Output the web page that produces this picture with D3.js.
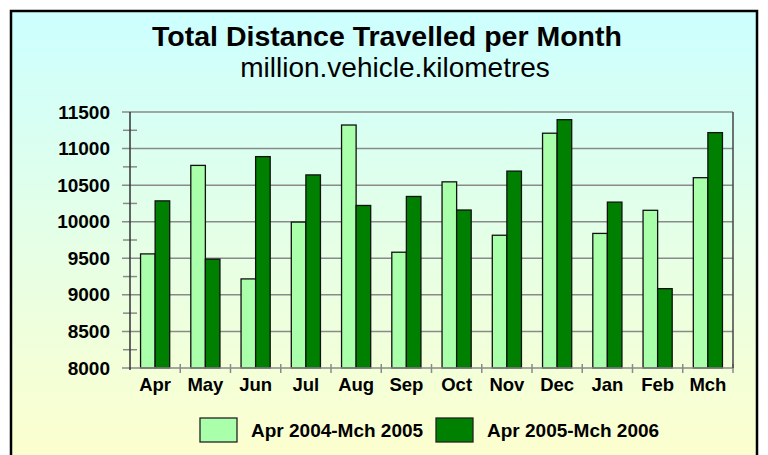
<!DOCTYPE html>
<html>
<head>
<meta charset="utf-8">
<script src="https://cdn.jsdelivr.net/npm/d3@7"></script>
<style>
  html, body { margin: 0; padding: 0; background: #fff; }
  svg { display: block; font-family: "Liberation Sans", Arial, sans-serif; }
</style>
</head>
<body>
<div id="chart"></div>
<script>
// ----------------------------
// Data
// ----------------------------
const months = ['Apr', 'May', 'Jun', 'Jul', 'Aug', 'Sep', 'Oct', 'Nov', 'Dec', 'Jan', 'Feb', 'Mch'];
const seriesNames = ['Apr 2004-Mch 2005', 'Apr 2005-Mch 2006'];
const year2004 = [9560, 10770, 9218, 9995, 11322, 9583, 10545, 9815, 11210, 9840, 10156, 10602];
const year2005 = [10285, 9488, 10890, 10640, 10222, 10345, 10160, 10692, 11395, 10268, 9085, 11218];
const yTicks = [8000, 8500, 9000, 9500, 10000, 10500, 11000, 11500];
const seriesColors = ['#aaffaa', '#008000'];

(function () {
  'use strict';

  const width = 768;
  const height = 455;
  const plot = { left: 130, right: 733, top: 112, bottom: 368 };

  const svg = d3.select('#chart')
    .append('svg')
    .attr('width', width)
    .attr('height', height);

  // ----------------------------
  // Background + frame
  // ----------------------------
  const grad = svg.append('defs')
    .append('linearGradient')
    .attr('id', 'bg')
    .attr('x1', 0).attr('y1', 0)
    .attr('x2', 0).attr('y2', 1);
  grad.append('stop').attr('offset', '0%').attr('stop-color', '#ccffff');
  grad.append('stop').attr('offset', '100%').attr('stop-color', '#ffffcc');

  svg.append('rect')
    .attr('x', 11).attr('y', 11)
    .attr('width', 746).attr('height', 470)
    .attr('fill', 'url(#bg)')
    .attr('stroke', '#000')
    .attr('stroke-width', 2.5);

  // ----------------------------
  // Titles
  // ----------------------------
  svg.append('text')
    .attr('x', 387).attr('y', 46)
    .attr('text-anchor', 'middle')
    .attr('font-size', '28.5px')
    .attr('font-weight', 'bold')
    .text('Total Distance Travelled per Month');

  svg.append('text')
    .attr('x', 395).attr('y', 77)
    .attr('text-anchor', 'middle')
    .attr('font-size', '28px')
    .text('million.vehicle.kilometres');

  // ----------------------------
  // Scales
  // ----------------------------
  const x = d3.scaleBand()
    .domain(months)
    .range([plot.left, plot.right])
    .padding(0);

  const pairWidth = x.bandwidth() * 0.58;
  const x1 = d3.scaleBand()
    .domain(d3.range(seriesNames.length))
    .range([(x.bandwidth() - pairWidth) / 2, (x.bandwidth() + pairWidth) / 2]);

  const y = d3.scaleLinear()
    .domain([8000, 11500])
    .range([plot.bottom, plot.top]);

  // ----------------------------
  // Gridlines
  // ----------------------------
  svg.append('g')
    .attr('stroke', '#8a8a8a')
    .attr('stroke-width', 1.5)
    .selectAll('line')
    .data(yTicks.slice(1))
    .enter()
    .append('line')
    .attr('x1', plot.left - 8)
    .attr('x2', plot.right)
    .attr('y1', d => y(d))
    .attr('y2', d => y(d));

  // minor ticks at the half steps
  const minor = d3.range(8250, 11500, 500);
  svg.append('g')
    .attr('stroke', '#8a8a8a')
    .attr('stroke-width', 1.5)
    .selectAll('line')
    .data(minor)
    .enter()
    .append('line')
    .attr('x1', plot.left - 7)
    .attr('x2', plot.left + 7)
    .attr('y1', d => y(d))
    .attr('y2', d => y(d));

  // ----------------------------
  // Bars
  // ----------------------------
  const rows = months.map((m, i) => ({ month: m, values: [year2004[i], year2005[i]] }));

  const groups = svg.append('g')
    .selectAll('g')
    .data(rows)
    .enter()
    .append('g')
    .attr('transform', d => `translate(${x(d.month)},0)`);

  groups.selectAll('rect')
    .data(d => d.values.map((v, k) => ({ k, v })))
    .enter()
    .append('rect')
    .attr('x', d => x1(d.k))
    .attr('width', x1.bandwidth())
    .attr('y', d => y(d.v))
    .attr('height', d => y(8000) - y(d.v))
    .attr('fill', d => seriesColors[d.k])
    .attr('stroke', '#111')
    .attr('stroke-width', 1.3);

  // ----------------------------
  // Axes
  // ----------------------------
  // x axis line + category separators
  svg.append('line')
    .attr('x1', plot.left - 8).attr('x2', plot.right)
    .attr('y1', plot.bottom).attr('y2', plot.bottom)
    .attr('stroke', '#8a8a8a')
    .attr('stroke-width', 1.5);

  svg.append('g')
    .attr('stroke', '#8a8a8a')
    .attr('stroke-width', 1.5)
    .selectAll('line')
    .data(months.slice(1).concat(['end']))
    .enter()
    .append('line')
    .attr('x1', (d, i) => plot.left + x.step() * (i + 1))
    .attr('x2', (d, i) => plot.left + x.step() * (i + 1))
    .attr('y1', plot.bottom - 4)
    .attr('y2', plot.bottom + 5);

  svg.append('line')
    .attr('x1', plot.left).attr('x2', plot.left)
    .attr('y1', plot.top).attr('y2', plot.bottom + 2)
    .attr('stroke', '#333')
    .attr('stroke-width', 1.5);

  svg.append('line')
    .attr('x1', plot.right).attr('x2', plot.right)
    .attr('y1', plot.top).attr('y2', plot.bottom)
    .attr('stroke', '#444')
    .attr('stroke-width', 1.5);

  const yAxis = svg.append('g')
    .attr('transform', `translate(${plot.left},0)`)
    .call(d3.axisLeft(y).tickValues(yTicks).tickFormat(d3.format('d')).tickSize(0).tickPadding(20));
  yAxis.select('.domain').remove();
  yAxis.selectAll('text')
    .attr('font-size', '19px')
    .attr('font-weight', 'bold')
    .attr('font-family', '"Liberation Sans", Arial, sans-serif')
    .attr('fill', '#000');

  const xAxis = svg.append('g')
    .attr('transform', `translate(0,${plot.bottom})`)
    .call(d3.axisBottom(x).tickSize(0).tickPadding(10));
  xAxis.select('.domain').remove();
  xAxis.selectAll('text')
    .attr('font-size', '18.5px')
    .attr('font-weight', 'bold')
    .attr('font-family', '"Liberation Sans", Arial, sans-serif')
    .attr('fill', '#000');

  // ----------------------------
  // Legend
  // ----------------------------
  const legendX = [200, 436];
  const legend = svg.append('g')
    .selectAll('g')
    .data(seriesNames)
    .enter()
    .append('g')
    .attr('transform', (d, i) => `translate(${legendX[i]},418)`);

  legend.append('rect')
    .attr('width', 37)
    .attr('height', 24)
    .attr('fill', (d, i) => seriesColors[i])
    .attr('stroke', '#222')
    .attr('stroke-width', 1.3);

  legend.append('text')
    .attr('x', 51)
    .attr('y', 19)
    .attr('font-size', '19px')
    .attr('font-weight', 'bold')
    .text(d => d);
})();
</script>
</body>
</html>
